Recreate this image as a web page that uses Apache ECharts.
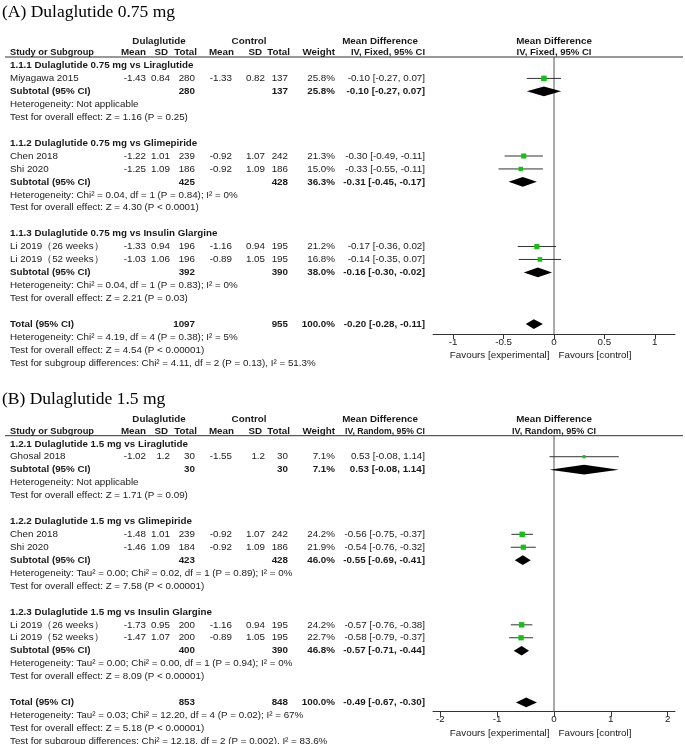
<!DOCTYPE html>
<html><head><meta charset="utf-8">
<script src="https://cdn.jsdelivr.net/npm/echarts@6/dist/echarts.min.js"></script>
<style>html,body{margin:0;padding:0;background:#fff}#c{width:685px;height:744px}</style>
</head><body><div id="c"></div><script>
// ---------------- Panel A data ----------------
const titleA = '(A) Dulaglutide 0.75 mg';
const methodA = 'IV, Fixed, 95% CI';
const subLabelsA = ['1.1.1 Dulaglutide 0.75 mg vs Liraglutide','1.1.2 Dulaglutide 0.75 mg vs Glimepiride','1.1.3 Dulaglutide 0.75 mg vs Insulin Glargine'];
const studyA = ['Miyagawa 2015','Chen 2018','Shi 2020','Li 2019（26 weeks）','Li 2019（52 weeks）'];
const studyGroupA = [0,1,1,2,2];
const dulaMeanA = [-1.43,-1.22,-1.25,-1.33,-1.03];
const dulaSdA = [0.84,1.01,1.09,0.94,1.06];
const dulaNA = [280,239,186,196,196];
const ctrlMeanA = [-1.33,-0.92,-0.92,-1.16,-0.89];
const ctrlSdA = [0.82,1.07,1.09,0.94,1.05];
const ctrlNA = [137,242,186,195,195];
const weightA = [25.8,21.3,15.0,21.2,16.8];
const mdA = [-0.10,-0.30,-0.33,-0.17,-0.14];
const loA = [-0.27,-0.49,-0.55,-0.36,-0.35];
const hiA = [0.07,-0.11,-0.11,0.02,0.07];
const subDulaNA = [280,425,392];
const subCtrlNA = [137,428,390];
const subWeightA = [25.8,36.3,38.0];
const subMdA = [-0.10,-0.31,-0.16];
const subLoA = [-0.27,-0.45,-0.30];
const subHiA = [0.07,-0.17,-0.02];
const subHetA = ['Heterogeneity: Not applicable','Heterogeneity: Chi² = 0.04, df = 1 (P = 0.84); I² = 0%','Heterogeneity: Chi² = 0.04, df = 1 (P = 0.83); I² = 0%'];
const subTestA = ['Test for overall effect: Z = 1.16 (P = 0.25)','Test for overall effect: Z = 4.30 (P < 0.0001)','Test for overall effect: Z = 2.21 (P = 0.03)'];
const totalNA = [1097,955];
const totalEffA = [-0.20,-0.28,-0.11];
const totalNotesA = ['Heterogeneity: Chi² = 4.19, df = 4 (P = 0.38); I² = 5%','Test for overall effect: Z = 4.54 (P < 0.00001)','Test for subgroup differences: Chi² = 4.11, df = 2 (P = 0.13), I² = 51.3%'];
const ticksA = [-1,-0.5,0,0.5,1];

// ---------------- Panel B data ----------------
const titleB = '(B) Dulaglutide 1.5 mg';
const methodB = 'IV, Random, 95% CI';
const subLabelsB = ['1.2.1 Dulaglutide 1.5 mg vs Liraglutide','1.2.2 Dulaglutide 1.5 mg vs Glimepiride','1.2.3 Dulaglutide 1.5 mg vs Insulin Glargine'];
const studyB = ['Ghosal 2018','Chen 2018','Shi 2020','Li 2019（26 weeks）','Li 2019（52 weeks）'];
const studyGroupB = [0,1,1,2,2];
const dulaMeanB = [-1.02,-1.48,-1.46,-1.73,-1.47];
const dulaSdB = [1.2,1.01,1.09,0.95,1.07];
const dulaNB = [30,239,184,200,200];
const ctrlMeanB = [-1.55,-0.92,-0.92,-1.16,-0.89];
const ctrlSdB = [1.2,1.07,1.09,0.94,1.05];
const ctrlNB = [30,242,186,195,195];
const weightB = [7.1,24.2,21.9,24.2,22.7];
const mdB = [0.53,-0.56,-0.54,-0.57,-0.58];
const loB = [-0.08,-0.75,-0.76,-0.76,-0.79];
const hiB = [1.14,-0.37,-0.32,-0.38,-0.37];
const subDulaNB = [30,423,400];
const subCtrlNB = [30,428,390];
const subWeightB = [7.1,46.0,46.8];
const subMdB = [0.53,-0.55,-0.57];
const subLoB = [-0.08,-0.69,-0.71];
const subHiB = [1.14,-0.41,-0.44];
const subHetB = ['Heterogeneity: Not applicable','Heterogeneity: Tau² = 0.00; Chi² = 0.02, df = 1 (P = 0.89); I² = 0%','Heterogeneity: Tau² = 0.00; Chi² = 0.00, df = 1 (P = 0.94); I² = 0%'];
const subTestB = ['Test for overall effect: Z = 1.71 (P = 0.09)','Test for overall effect: Z = 7.58 (P < 0.00001)','Test for overall effect: Z = 8.09 (P < 0.00001)'];
const totalNB = [853,848];
const totalEffB = [-0.49,-0.67,-0.30];
const totalNotesB = ['Heterogeneity: Tau² = 0.03; Chi² = 12.20, df = 4 (P = 0.02); I² = 67%','Test for overall effect: Z = 5.18 (P < 0.00001)','Test for subgroup differences: Chi² = 12.18, df = 2 (P = 0.002), I² = 83.6%'];
const ticksB = [-2,-1,0,1,2];

const headerTop = ['Dulaglutide','Control','Mean Difference','Mean Difference'];
const headerCols = ['Study or Subgroup','Mean','SD','Total','Mean','SD','Total','Weight'];
const favours = ['Favours [experimental]','Favours [control]'];

// ---------------- layout / style ----------------
const FONT = '"Liberation Sans", Arial, sans-serif';
const FS = 9.8;
const TXT = '#1a1a1a';
const ROW_H = 12.93;
const COLS = {label:10, dMean:146, dSd:170, dN:195, cMean:232, cSd:265, cN:288, w:335, md:425};
const HCOLS = [10,146,168,197,234,262,290,335];
const HFIT = [84,0,0,0,0,0,0,0];
const panels = [
  {title:titleA, titleY:11, row0:65.5, gridTop:57, gridBottom:334, xMax:1.2, method:methodA, mFit:[74,75], ticks:ticksA,
   subLabels:subLabelsA, study:studyA, grp:studyGroupA, dM:dulaMeanA, dS:dulaSdA, dN:dulaNA, cM:ctrlMeanA, cS:ctrlSdA, cN:ctrlNA,
   w:weightA, md:mdA, lo:loA, hi:hiA, sDN:subDulaNA, sCN:subCtrlNA, sW:subWeightA, sMd:subMdA, sLo:subLoA, sHi:subHiA,
   het:subHetA, test:subTestA, tN:totalNA, tE:totalEffA, tNotes:totalNotesA},
  {title:titleB, titleY:398, row0:443.8, gridTop:435.7, gridBottom:711.7, xMax:2.13, method:methodB, mFit:[80,84], ticks:ticksB,
   subLabels:subLabelsB, study:studyB, grp:studyGroupB, dM:dulaMeanB, dS:dulaSdB, dN:dulaNB, cM:ctrlMeanB, cS:ctrlSdB, cN:ctrlNB,
   w:weightB, md:mdB, lo:loB, hi:hiB, sDN:subDulaNB, sCN:subCtrlNB, sW:subWeightB, sMd:subMdB, sLo:subLoB, sHi:subHiB,
   het:subHetB, test:subTestB, tN:totalNB, tE:totalEffB, tNotes:totalNotesB}
];

const ci = (m,l,h) => `${m.toFixed(2)} [${l.toFixed(2)}, ${h.toFixed(2)}]`;
const pct = v => v.toFixed(1) + '%';
const mctx = document.createElement('canvas').getContext('2d');
const measure = (text, font) => { mctx.font = font; return mctx.measureText(text).width; };

const option = {animation:false, backgroundColor:'#fff', grid:[], xAxis:[], yAxis:[], series:[], graphic:[]};

panels.forEach((p, k) => {
  const items = [], studies = [], diamonds = [];
  const add = (row, x, text, align, bold, fit) => items.push({row, x, text: String(text), align, bold: !!bold, fit: fit || 0});
  // headers
  add(-1.9, 159, headerTop[0], 'center', true);
  add(-1.9, 249, headerTop[1], 'center', true);
  add(-1.9, 380, headerTop[2], 'center', true);
  add(-1.9, 'zero', headerTop[3], 'center', true);
  headerCols.forEach((h, i) => add(-1, HCOLS[i], h, i === 0 ? 'left' : 'right', true, HFIT[i]));
  add(-1, 425, p.method, 'right', true, p.mFit[0]);
  add(-1, 'zero', p.method, 'center', true, p.mFit[1]);
  let row = 0;
  for (let g = 0; g < 3; g++) {
    add(row, COLS.label, p.subLabels[g], 'left', true); row++;
    p.study.forEach((s, i) => {
      if (p.grp[i] !== g) return;
      add(row, COLS.label, s, 'left');
      add(row, COLS.dMean, p.dM[i], 'right');
      add(row, COLS.dSd, p.dS[i], 'right');
      add(row, COLS.dN, p.dN[i], 'right');
      add(row, COLS.cMean, p.cM[i], 'right');
      add(row, COLS.cSd, p.cS[i], 'right');
      add(row, COLS.cN, p.cN[i], 'right');
      add(row, COLS.w, pct(p.w[i]), 'right');
      add(row, COLS.md, ci(p.md[i], p.lo[i], p.hi[i]), 'right');
      studies.push([p.md[i], p.lo[i], p.hi[i], p.w[i], row]);
      row++;
    });
    add(row, COLS.label, 'Subtotal (95% CI)', 'left', true);
    add(row, COLS.dN, p.sDN[g], 'right', true);
    add(row, COLS.cN, p.sCN[g], 'right', true);
    add(row, COLS.w, pct(p.sW[g]), 'right', true);
    add(row, COLS.md, ci(p.sMd[g], p.sLo[g], p.sHi[g]), 'right', true);
    diamonds.push([p.sMd[g], p.sLo[g], p.sHi[g], row]);
    row++;
    add(row, COLS.label, p.het[g], 'left'); row++;
    add(row, COLS.label, p.test[g], 'left'); row++;
    row++;
  }
  add(row, COLS.label, 'Total (95% CI)', 'left', true);
  add(row, COLS.dN, p.tN[0], 'right', true);
  add(row, COLS.cN, p.tN[1], 'right', true);
  add(row, COLS.w, pct(100), 'right', true);
  add(row, COLS.md, ci(p.tE[0], p.tE[1], p.tE[2]), 'right', true);
  diamonds.push([p.tE[0], p.tE[1], p.tE[2], row]);
  row++;
  p.tNotes.forEach(t => { add(row, COLS.label, t, 'left'); row++; });

  const yMin = (p.gridTop - p.row0) / ROW_H;
  const yMax = (p.gridBottom - p.row0) / ROW_H;
  const favRow = yMax + 21.5 / ROW_H;
  add(favRow, 'favL', favours[0], 'right');
  add(favRow, 'favR', favours[1], 'left');

  option.grid.push({left:433, width:242, top:p.gridTop, height:p.gridBottom - p.gridTop});
  option.xAxis.push({gridIndex:k, type:'value', min:-p.xMax, max:p.xMax, position:'bottom',
    axisLine:{show:true, onZero:false, lineStyle:{color:'#333', width:1}},
    axisTick:{show:true, customValues:p.ticks, length:5, lineStyle:{color:'#333'}},
    axisLabel:{customValues:p.ticks, formatter:v => String(v), fontFamily:FONT, fontSize:FS, color:TXT, margin:3},
    splitLine:{show:false}});
  option.yAxis.push({gridIndex:k, type:'value', inverse:true, min:yMin, max:yMax, show:false});

  // zero line
  option.series.push({type:'line', xAxisIndex:k, yAxisIndex:k, data:[[0, yMin],[0, yMax]], showSymbol:false, symbol:'none',
    lineStyle:{color:'#555', width:1}, silent:true, z:1});
  // studies
  option.series.push({type:'custom', xAxisIndex:k, yAxisIndex:k, data:studies, encode:{x:[0,1,2], y:4}, z:3,
    renderItem:(params, api) => {
      const r = api.value(4);
      const c = api.coord([api.value(0), r]);
      const l = api.coord([api.value(1), r]);
      const h = api.coord([api.value(2), r]);
      const s = Math.sqrt(api.value(3)) + 0.5;
      return {type:'group', children:[
        {type:'line', shape:{x1:l[0], y1:c[1], x2:h[0], y2:c[1]}, style:{stroke:'#333', lineWidth:1}},
        {type:'rect', shape:{x:c[0]-s/2, y:c[1]-s/2, width:s, height:s}, style:{fill:'#12c212'}}
      ]};
    }});
  // diamonds
  option.series.push({type:'custom', xAxisIndex:k, yAxisIndex:k, data:diamonds, encode:{x:[0,1,2], y:3}, z:3,
    renderItem:(params, api) => {
      const r = api.value(3);
      const c = api.coord([api.value(0), r]);
      const l = api.coord([api.value(1), r]);
      const h = api.coord([api.value(2), r]);
      const hh = 4.8;
      return {type:'polygon', shape:{points:[[l[0], c[1]],[c[0], c[1]-hh],[h[0], c[1]],[c[0], c[1]+hh]]}, style:{fill:'#000'}};
    }});
  // table text
  option.series.push({type:'custom', xAxisIndex:k, yAxisIndex:k, data:items.map((it, i) => [0, it.row, i]), encode:{x:0, y:1}, z:5, clip:false, silent:true,
    renderItem:(params, api) => {
      const it = items[api.value(2)];
      const y = api.coord([0, api.value(1)])[1];
      const zx = api.coord([0, 0])[0];
      let x = it.x;
      if (x === 'zero') x = zx;
      else if (x === 'favL') x = zx - 4.5;
      else if (x === 'favR') x = zx + 4.5;
      const font = (it.bold ? 'bold ' : '') + FS + 'px ' + FONT;
      const sx = it.fit ? Math.min(1, it.fit / measure(it.text, font)) : 1;
      return {type:'text', x:x, y:y, scaleX:sx, style:{text:it.text, textAlign:it.align, textVerticalAlign:'middle', font:font, fill:TXT}};
    }});

  option.graphic.push({type:'text', left:2, top:p.titleY - 8, style:{text:p.title, font:'17.5px "Liberation Serif", "Times New Roman", serif', fill:'#000'}});
  option.graphic.push({type:'line', shape:{x1:5, y1:p.gridTop, x2:683, y2:p.gridTop}, style:{stroke:'#333', lineWidth:1}});
});

const chart = echarts.init(document.getElementById('c'), null, {renderer:'canvas'});
chart.setOption(option);
</script></body></html>
